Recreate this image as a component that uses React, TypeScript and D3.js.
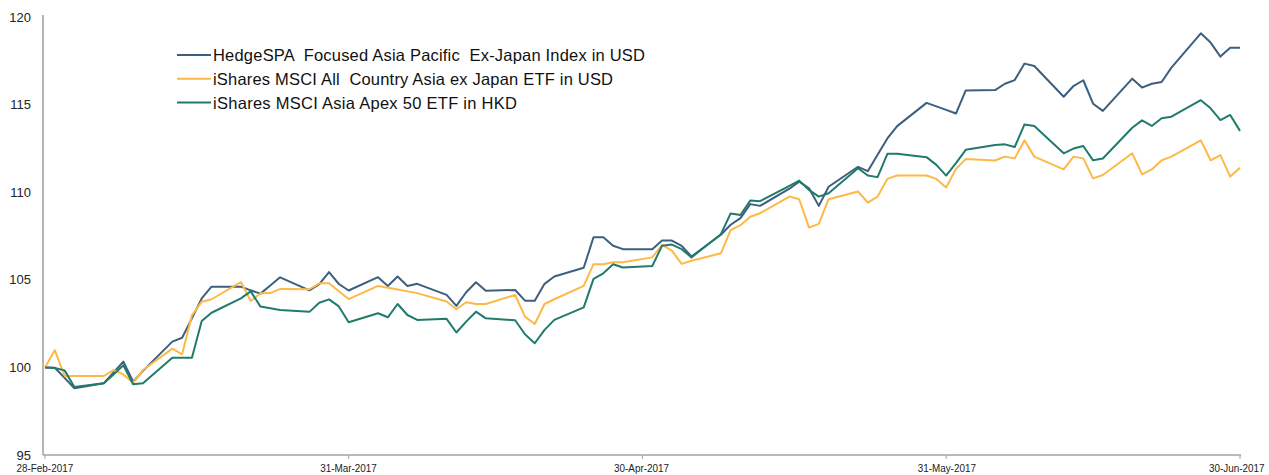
import React from 'react';
import * as d3 from 'd3';

const dates = [
  '2017-02-28',
  '2017-03-01','2017-03-02','2017-03-03',
  '2017-03-06','2017-03-07','2017-03-08','2017-03-09','2017-03-10',
  '2017-03-13','2017-03-14','2017-03-15','2017-03-16','2017-03-17',
  '2017-03-20','2017-03-21','2017-03-22','2017-03-23','2017-03-24',
  '2017-03-27','2017-03-28','2017-03-29','2017-03-30','2017-03-31',
  '2017-04-03','2017-04-04','2017-04-05','2017-04-06','2017-04-07',
  '2017-04-10','2017-04-11','2017-04-12','2017-04-13','2017-04-14',
  '2017-04-17','2017-04-18','2017-04-19','2017-04-20','2017-04-21',
  '2017-04-24','2017-04-25','2017-04-26','2017-04-27','2017-04-28',
  '2017-05-01','2017-05-02','2017-05-03','2017-05-04','2017-05-05',
  '2017-05-08','2017-05-09','2017-05-10','2017-05-11','2017-05-12',
  '2017-05-15','2017-05-16','2017-05-17','2017-05-18','2017-05-19',
  '2017-05-22','2017-05-23','2017-05-24','2017-05-25','2017-05-26',
  '2017-05-29','2017-05-30','2017-05-31',
  '2017-06-01','2017-06-02',
  '2017-06-05','2017-06-06','2017-06-07','2017-06-08','2017-06-09',
  '2017-06-12','2017-06-13','2017-06-14','2017-06-15','2017-06-16',
  '2017-06-19','2017-06-20','2017-06-21','2017-06-22','2017-06-23',
  '2017-06-26','2017-06-27','2017-06-28','2017-06-29','2017-06-30',
];

const hedgespaUSD = [
  100,
  99.98, 99.4, 98.81,
  99.09, 99.71, 100.33, 99.18, 99.8,
  101.47, 101.69, 102.8, 103.94, 104.61,
  104.61, 104.40, 104.21, 104.67, 105.14,
  104.4, 104.75, 105.44, 104.76, 104.39,
  105.15, 104.65, 105.19, 104.65, 104.77,
  104.14, 103.51, 104.29, 104.86, 104.37,
  104.42, 103.81, 103.81, 104.77, 105.19,
  105.69, 107.43, 107.43, 106.94, 106.75,
  106.75, 107.24, 107.24, 106.94, 106.33,
  107.57, 108.14, 108.52, 109.32, 109.22,
  110.2, 110.6, 110.22, 109.22, 110.31,
  111.45, 111.2, 112.14, 113.07, 113.77,
  115.1, 114.9, 114.7,
  114.49, 115.81,
  115.83, 116.19, 116.4, 117.34, 117.2,
  115.45, 116.06, 116.39, 115.05, 114.64,
  116.48, 115.97, 116.19, 116.29, 117.11,
  119.07, 118.54, 117.74, 118.25, 118.25,
];

const ishAcAxjUSD = [
  100,
  100.98, 99.51, 99.51,
  99.51, 99.85, 99.6, 99.13, 99.85,
  101.07, 100.75, 102.97, 103.75, 103.89,
  104.87, 103.79, 104.23, 104.24, 104.48,
  104.46, 104.8, 104.8, 104.35, 103.9,
  104.65, 104.55, 104.45, 104.34, 104.24,
  103.76, 103.32, 103.72, 103.62, 103.62,
  104.14, 102.9, 102.48, 103.62, 103.89,
  104.65, 105.89, 105.89, 106.0, 106.0,
  106.28, 106.99, 106.66, 105.91, 106.09,
  106.51, 107.84, 108.12, 108.6, 108.8,
  109.75, 109.6, 107.98, 108.19, 109.6,
  110.04, 109.41, 109.75, 110.76, 110.95,
  110.95, 110.76, 110.27,
  111.33, 111.89,
  111.81, 112.03, 111.93, 112.96, 112.03,
  111.3, 112.03, 111.93, 110.79, 110.98,
  112.22, 111.02, 111.3, 111.82, 112.03,
  112.96, 111.82, 112.12, 110.89, 111.4,
];

const ishApex50HKD = [
  100,
  99.97, 99.83, 98.88,
  99.09, 99.6, 100.12, 99.04, 99.09,
  100.55, 100.55, 100.55, 102.65, 103.12,
  103.94, 104.34, 103.47, 103.38, 103.28,
  103.17, 103.69, 103.88, 103.48, 102.58,
  103.09, 102.86, 103.62, 102.99, 102.71,
  102.77, 101.99, 102.61, 103.18, 102.8,
  102.69, 101.89, 101.38, 102.14, 102.71,
  103.43, 105.05, 105.37, 105.89, 105.7,
  105.79, 106.95, 107.01, 106.75, 106.28,
  107.6, 108.79, 108.7, 109.52, 109.49,
  110.36, 110.66, 110.13, 109.75, 109.94,
  111.37, 110.95, 110.86, 112.19, 112.19,
  112.0, 111.56, 110.95,
  111.66, 112.42,
  112.7, 112.73, 112.58, 113.87, 113.78,
  112.22, 112.49, 112.64, 111.82, 111.92,
  113.68, 114.1, 113.78, 114.22, 114.31,
  115.25, 114.79, 114.12, 114.41, 113.5,
];

const seriesNames = [
  'HedgeSPA  Focused Asia Pacific  Ex-Japan Index in USD',
  'iShares MSCI All  Country Asia ex Japan ETF in USD',
  'iShares MSCI Asia Apex 50 ETF in HKD',
];
const seriesColors = ['#3c5f7f', '#fdb945', '#217b6b'];
const legendTextWidths = [432, 400, 304];

const xTickDates = ['2017-02-28', '2017-03-31', '2017-04-30', '2017-05-31', '2017-06-30'];
const xTickLabels = ['28-Feb-2017', '31-Mar-2017', '30-Apr-2017', '31-May-2017', '30-Jun-2017'];
const yTicks = [95, 100, 105, 110, 115, 120];

const FONT = '"Liberation Sans", Arial, Helvetica, sans-serif';

export default function App() {
  const parse = d3.utcParse('%Y-%m-%d');
  const W = 1269;
  const H = 475;
  const x = d3
    .scaleUtc()
    .domain([parse('2017-02-28') as Date, parse('2017-06-30') as Date])
    .range([45, 1240]);
  const y = d3.scaleLinear().domain([95, 120]).range([455, 17]);

  const parsedDates = dates.map((d) => parse(d) as Date);
  const allSeries = [hedgespaUSD, ishAcAxjUSD, ishApex50HKD];

  const line = d3
    .line<[Date, number]>()
    .x((d) => x(d[0]))
    .y((d) => y(d[1]));

  const axisX0 = 43;
  const axisY = y(95);
  const labelW = 57;

  return (
    <svg
      width={W}
      height={H}
      style={{ position: 'absolute', left: 0, top: 0, background: '#fff' }}
      fontFamily={FONT}
    >
      <rect x={0} y={0} width={W} height={H} fill="#fff" />
      {/* Y axis */}
      <line x1={axisX0} x2={axisX0} y1={y(120) - 2} y2={axisY} stroke="#a3a3a3" strokeWidth={1.6} />
      {yTicks.map((t) => (
        <text key={t} x={31} y={y(t)} dy="0.36em" textAnchor="end" fontSize={13} fill="#222">
          {t}
        </text>
      ))}
      {/* X axis */}
      <line x1={axisX0} x2={1241} y1={axisY} y2={axisY} stroke="#a3a3a3" strokeWidth={1.6} />
      {xTickDates.map((d, i) => {
        const xx = x(parse(d) as Date);
        const lx = Math.min(Math.max(xx - labelW / 2, 1), W - 3 - labelW);
        return (
          <g key={d}>
            <line x1={xx} x2={xx} y1={axisY} y2={axisY + 4} stroke="#a3a3a3" strokeWidth={1} />
            <text
              transform={`translate(${lx},472) scale(1,1.12)`}
              x={0}
              y={0}
              textAnchor="start"
              fontSize={9.9}
              fill="#222"
            >
              {xTickLabels[i]}
            </text>
          </g>
        );
      })}
      {/* Series */}
      {allSeries.map((vals, si) => (
        <path
          key={si}
          d={line(parsedDates.map((d, i) => [d, vals[i]] as [Date, number])) || ''}
          fill="none"
          stroke={seriesColors[si]}
          strokeWidth={2}
          strokeLinejoin="round"
        />
      ))}
      {/* Legend */}
      {seriesNames.map((name, i) => {
        const ly = 55 + i * 23.8;
        return (
          <g key={name}>
            <line x1={177} x2={211} y1={ly} y2={ly} stroke={seriesColors[i]} strokeWidth={2} />
            <text
              x={213}
              y={ly}
              dy="0.36em"
              fontSize={16.5}
              fill="#111"
              textLength={legendTextWidths[i]}
              lengthAdjust="spacing"
              style={{ whiteSpace: 'pre' }}
            >
              {name}
            </text>
          </g>
        );
      })}
    </svg>
  );
}
